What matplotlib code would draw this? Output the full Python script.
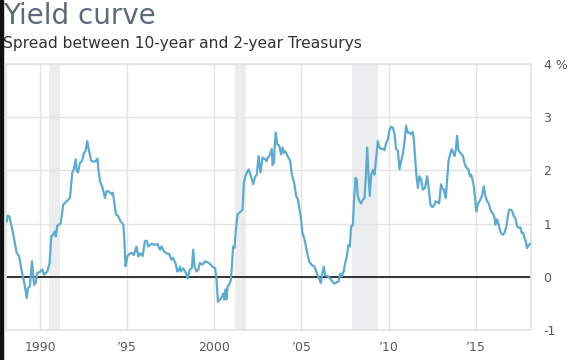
import matplotlib
matplotlib.use("Agg")
import matplotlib.pyplot as plt
from matplotlib.patches import Rectangle

# spread between 10-year and 2-year Treasurys (decimal year, %)
years = [
    1988.09, 1988.15, 1988.25, 1988.47, 1988.66, 1988.80, 1988.99, 1989.12, 1989.24, 1989.31,
    1989.42, 1989.54, 1989.66, 1989.75, 1989.85, 1990.04, 1990.13, 1990.23, 1990.42, 1990.55,
    1990.65, 1990.75, 1990.84, 1990.91, 1990.99, 1991.18, 1991.34, 1991.53, 1991.72, 1991.85,
    1991.94, 1992.05, 1992.11, 1992.18, 1992.29, 1992.42, 1992.52, 1992.61, 1992.71, 1992.80,
    1992.94, 1993.08, 1993.20, 1993.29, 1993.35, 1993.44, 1993.59, 1993.73, 1993.82, 1993.97,
    1994.11, 1994.18, 1994.24, 1994.36, 1994.49, 1994.63, 1994.78, 1994.84, 1994.91, 1995.01,
    1995.13, 1995.26, 1995.39, 1995.54, 1995.64, 1995.74, 1995.89, 1996.02, 1996.12, 1996.21,
    1996.40, 1996.59, 1996.74, 1996.88, 1996.97, 1997.11, 1997.26, 1997.41, 1997.55, 1997.65,
    1997.80, 1997.87, 1997.95, 1998.03, 1998.08, 1998.22, 1998.37, 1998.47, 1998.60, 1998.71,
    1998.79, 1998.87, 1998.98, 1999.08, 1999.17, 1999.32, 1999.48, 1999.63, 1999.79, 1999.90,
    2000.05, 2000.13, 2000.21, 2000.33, 2000.44, 2000.52, 2000.59, 2000.65, 2000.71, 2000.76,
    2000.86, 2000.95, 2001.01, 2001.08, 2001.16, 2001.24, 2001.33, 2001.42, 2001.54, 2001.62,
    2001.70, 2001.81, 2001.97, 2002.10, 2002.23, 2002.34, 2002.44, 2002.54, 2002.65, 2002.77,
    2002.92, 2003.00, 2003.06, 2003.15, 2003.22, 2003.30, 2003.34, 2003.42, 2003.49, 2003.53,
    2003.61, 2003.72, 2003.84, 2003.92, 2003.99, 2004.07, 2004.22, 2004.35, 2004.45, 2004.58,
    2004.70, 2004.80, 2004.89, 2004.98, 2005.06, 2005.18, 2005.31, 2005.44, 2005.60, 2005.75,
    2005.88, 2006.01, 2006.11, 2006.20, 2006.28, 2006.36, 2006.51, 2006.65, 2006.78, 2006.90,
    2007.03, 2007.13, 2007.23, 2007.32, 2007.42, 2007.51, 2007.60, 2007.70, 2007.78, 2007.85,
    2007.95, 2008.02, 2008.10, 2008.17, 2008.23, 2008.33, 2008.42, 2008.52, 2008.62, 2008.69,
    2008.77, 2008.85, 2008.92, 2009.00, 2009.10, 2009.19, 2009.29, 2009.38, 2009.48, 2009.57,
    2009.67, 2009.77, 2009.86, 2009.96, 2010.06, 2010.15, 2010.25, 2010.34, 2010.43, 2010.53,
    2010.63, 2010.72, 2010.81, 2010.91, 2011.00, 2011.10, 2011.20, 2011.29, 2011.39, 2011.45,
    2011.52, 2011.58, 2011.68, 2011.77, 2011.87, 2011.96, 2012.09, 2012.21, 2012.30, 2012.40,
    2012.50, 2012.59, 2012.71, 2012.82, 2012.90, 2013.01, 2013.09, 2013.17, 2013.28, 2013.36,
    2013.44, 2013.55, 2013.63, 2013.70, 2013.78, 2013.86, 2013.93, 2014.01, 2014.12, 2014.27,
    2014.35, 2014.46, 2014.58, 2014.66, 2014.73, 2014.81, 2014.89, 2014.96, 2015.03, 2015.11,
    2015.22, 2015.30, 2015.38, 2015.46, 2015.56, 2015.65, 2015.75, 2015.84, 2015.94, 2016.00,
    2016.07, 2016.13, 2016.19, 2016.26, 2016.36, 2016.45, 2016.56, 2016.64, 2016.76, 2016.84,
    2016.91, 2017.03, 2017.10, 2017.18, 2017.27, 2017.37, 2017.49, 2017.56, 2017.64, 2017.72,
    2017.79, 2017.87, 2017.95, 2018.05, 2018.14,
]
spread = [
    1.04, 1.15, 1.13, 0.79, 0.45, 0.39, 0.04, -0.15, -0.40, -0.21,
    -0.18, 0.29, -0.15, -0.12, 0.07, 0.10, 0.14, 0.04, 0.10, 0.26,
    0.76, 0.79, 0.85, 0.76, 0.96, 1.00, 1.36, 1.42, 1.48, 1.96,
    2.02, 2.21, 1.99, 1.96, 2.14, 2.18, 2.33, 2.36, 2.55, 2.39,
    2.18, 2.16, 2.18, 2.22, 2.02, 1.80, 1.67, 1.48, 1.61, 1.60,
    1.55, 1.58, 1.45, 1.17, 1.14, 1.04, 0.98, 0.70, 0.20, 0.38,
    0.43, 0.45, 0.41, 0.57, 0.38, 0.44, 0.39, 0.67, 0.68, 0.57,
    0.62, 0.60, 0.62, 0.51, 0.57, 0.48, 0.44, 0.43, 0.32, 0.35,
    0.23, 0.10, 0.12, 0.19, 0.10, 0.16, 0.07, -0.03, 0.14, 0.16,
    0.51, 0.19, 0.10, 0.13, 0.26, 0.23, 0.29, 0.27, 0.23, 0.19,
    0.16, -0.06, -0.47, -0.43, -0.37, -0.31, -0.43, -0.24, -0.42, -0.18,
    -0.15, -0.06, 0.20, 0.57, 0.54, 0.89, 1.17, 1.20, 1.23, 1.26,
    1.77, 1.92, 2.02, 1.89, 1.74, 1.88, 1.92, 2.27, 1.96, 2.24,
    2.21, 2.17, 2.24, 2.27, 2.33, 2.40, 2.10, 2.14, 2.58, 2.71,
    2.49, 2.47, 2.30, 2.43, 2.33, 2.36, 2.26, 2.18, 1.92, 1.77,
    1.52, 1.45, 1.26, 1.08, 0.82, 0.70, 0.48, 0.29, 0.22, 0.19,
    0.07, -0.03, -0.12, 0.07, 0.19, 0.03, 0.01, -0.03, -0.09, -0.13,
    -0.10, -0.09, 0.06, 0.01, 0.10, 0.26, 0.38, 0.60, 0.57, 0.95,
    0.97, 1.45, 1.86, 1.83, 1.52, 1.42, 1.38, 1.45, 1.48, 1.86,
    2.43, 1.89, 1.52, 1.92, 2.01, 1.92, 2.24, 2.55, 2.43, 2.40,
    2.41, 2.38, 2.52, 2.58, 2.77, 2.82, 2.80, 2.68, 2.40, 2.37,
    2.02, 2.17, 2.30, 2.52, 2.84, 2.71, 2.71, 2.68, 2.72, 2.58,
    2.24, 1.96, 1.67, 1.89, 1.83, 1.64, 1.67, 1.89, 1.67, 1.36,
    1.31, 1.33, 1.42, 1.40, 1.38, 1.74, 1.66, 1.64, 1.48, 1.83,
    2.18, 2.33, 2.40, 2.33, 2.27, 2.40, 2.65, 2.37, 2.33, 2.27,
    2.14, 2.05, 2.02, 1.89, 1.92, 1.83, 1.70, 1.48, 1.23, 1.36,
    1.42, 1.48, 1.55, 1.70, 1.51, 1.42, 1.38, 1.26, 1.20, 1.19,
    1.11, 0.98, 1.08, 1.05, 0.92, 0.82, 0.79, 0.82, 0.95, 1.14,
    1.26, 1.26, 1.23, 1.14, 1.11, 0.95, 0.92, 0.93, 0.82, 0.83,
    0.74, 0.66, 0.54, 0.60, 0.62,
]

recessions = [(1990.50, 1991.17), (2001.17, 2001.83), (2007.92, 2009.42)]
xticks = [1990, 1995, 2000, 2005, 2010, 2015]
xlabels = ["1990", "\u201995", "2000", "\u201905", "\u201910", "\u201915"]
yticks = [-1, 0, 1, 2, 3, 4]
ylabels = ["-1", "0", "1", "2", "3", "4 %"]

fig = plt.figure(figsize=(5.69, 3.6), dpi=100)
ax = fig.add_axes([6 / 569, 30 / 360, 525 / 569, 266 / 360])

for start, end in recessions:
    ax.axvspan(start, end, color="#ebedef", lw=0, zorder=0)

ax.axhline(0, color="black", lw=1.1, zorder=2)
ax.plot(years, spread, color="#5eabcd", lw=1.6, zorder=3)

ax.set_xlim(1988.05, 2018.17)
ax.set_ylim(-1, 4)
ax.set_xticks(xticks)
ax.set_xticklabels(xlabels)
ax.set_yticks(yticks)
ax.set_yticklabels(ylabels)
ax.yaxis.tick_right()
ax.grid(True, color="#e3e3e3", lw=1, zorder=1)
ax.set_axisbelow(True)
for s in ax.spines.values():
    s.set_color("#e3e3e3")
    s.set_linewidth(1.2)
ax.tick_params(length=0, labelsize=9, labelcolor="#5a5a5a")
ax.tick_params(axis="x", pad=8)
ax.tick_params(axis="y", pad=9)
for lab in ax.get_yticklabels():
    lab.set_horizontalalignment("left")

fig.text(3 / 569, 1 - 2 / 360, "Yield curve", fontsize=20, color="#5f6a78",
         va="top", ha="left")
fig.text(3 / 569, 1 - 36 / 360, "Spread between 10-year and 2-year Treasurys",
         fontsize=11.2, color="#333333", va="top", ha="left")

# dark strip along the left edge of the original image
fig.patches.append(Rectangle((0, 0), 3 / 569, 1, transform=fig.transFigure,
                             color="#111111", zorder=10))

fig.savefig("out.png", dpi=100)
